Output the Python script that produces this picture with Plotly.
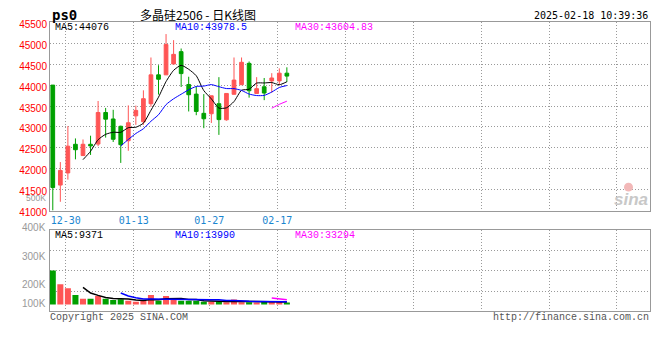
import plotly.graph_objects as go

# ---------------- data ----------------
dates = ["12-26", "12-27", "12-30", "12-31", "01-02", "01-03", "01-06", "01-07", "01-08", "01-09",
         "01-10", "01-13", "01-14", "01-15", "01-16", "01-17", "01-20", "01-21", "01-22", "01-23",
         "01-24", "01-27", "02-05", "02-06", "02-07", "02-10", "02-11", "02-12", "02-13", "02-14",
         "02-17", "02-18"]
open_ = [44000, 41610, 41900, 42585, 42315, 42585, 42590, 43345, 43190, 43015,
         42670, 43265, 43125, 43555, 44245, 44245, 44505, 44800, 44015, 43785,
         43325, 43315, 43555, 43170, 43780, 44010, 44520, 43800, 43960, 44100,
         44100, 44285]
high = [44000, 42160, 43020, 42725, 42700, 42790, 43620, 43455, 43410, 43030,
        43515, 43510, 43875, 44660, 44475, 45220, 45075, 44875, 44200, 43970,
        43785, 43745, 44190, 43800, 44660, 44660, 44565, 44190, 44170, 44285,
        44400, 44425]
low = [41000, 41210, 41740, 42225, 42310, 42330, 42540, 42745, 42640, 42140,
       42430, 43050, 43050, 43480, 43775, 44245, 44500, 43955, 43370, 43280,
       42970, 43095, 42810, 43150, 43780, 44000, 43700, 43800, 43640, 43820,
       44000, 44075]
close = [41550, 41960, 42540, 42455, 42585, 42545, 43345, 43185, 42705, 42575,
         43100, 43395, 43675, 44245, 44140, 44970, 44735, 44275, 43770, 43370,
         43195, 43745, 43175, 43800, 44120, 44545, 43865, 43915, 43810, 44170,
         44285, 44215]
volume = [345000, 198000, 157000, 85000, 44000, 44000, 75000, 44000, 31000, 41000,
          24000, 14000, 24000, 85000, 24000, 75000, 34000, 24000, 24000, 24000,
          14000, 14000, 17000, 9000, 38000, 9000, 9000, 6000, 12000, 12000,
          12000, 5000]

price_ticks = [41000, 41500, 42000, 42500, 43000, 43500, 44000, 44500, 45000, 45500]
date_labels = ["12-30", "01-13", "01-27", "02-17"]
vol_labels = ["500K", "400K", "300K", "200K", "100K"]

ma_price_text = ["MA5:44076", "MA10:43978.5", "MA30:43604.83"]
ma_vol_text = ["MA5:9371", "MA10:13990", "MA30:33294"]

# ---------------- helpers ----------------
W, H = 660, 360
def px(x):
    return x / W
def py(y):
    return 1 - y / H

def moving_avg(vals, n):
    out = []
    for i in range(len(vals)):
        if i + 1 < n:
            out.append(None)
        else:
            out.append(sum(vals[i + 1 - n:i + 1]) / n)
    return out

idx = list(range(len(dates)))
RED = "#ff5555"
GREEN = "#00a000"
MA_COLORS = ["#000000", "#0000ff", "#ff00ff"]
GRID = "#9a9a9a"
BORDER = "#999999"

# vertical grid positions (just left of labelled trading days, then every 9 sessions)
label_idx = [dates.index(d) for d in date_labels]
grid_idx = label_idx + [label_idx[-1] + 9 * k for k in range(1, 6)]
grid_pos = [g - 0.28 for g in grid_idx]
grid_text = date_labels + [""] * (len(grid_pos) - len(date_labels))

fig = go.Figure()

fig.add_trace(go.Candlestick(
    x=idx, open=open_, high=high, low=low, close=close,
    increasing=dict(line=dict(color=RED, width=1), fillcolor=RED),
    decreasing=dict(line=dict(color=GREEN, width=1), fillcolor=GREEN),
    whiskerwidth=0, xaxis="x", yaxis="y", showlegend=False, hoverinfo="skip"))

for n, col in zip([5, 10, 30], MA_COLORS):
    fig.add_trace(go.Scatter(x=idx, y=moving_avg(close, n), mode="lines",
                             line=dict(color=col, width=1, shape="spline", smoothing=0.6),
                             xaxis="x", yaxis="y", showlegend=False, hoverinfo="skip"))

VOL_FLOOR = 17000  # minimum drawn bar height (as in the original renderer)
bar_colors = [RED if c >= o else GREEN for o, c in zip(open_, close)]
fig.add_trace(go.Bar(x=idx, y=[v + VOL_FLOOR for v in volume], base=-VOL_FLOOR,
                     marker=dict(color=bar_colors, line=dict(width=0)), width=0.8,
                     xaxis="x2", yaxis="y2", showlegend=False, hoverinfo="skip"))
for n, col in zip([5, 10, 30], MA_COLORS):
    fig.add_trace(go.Scatter(x=idx, y=moving_avg(volume, n), mode="lines",
                             line=dict(color=col, width=1.5),
                             xaxis="x2", yaxis="y2", showlegend=False, hoverinfo="skip"))

XR = [-0.37, 79.03]
XDOM = [px(50), px(649.5)]
VR = [-89000, 772000]
vol_grid = [VR[0] + (VR[1] - VR[0]) * k / 4 for k in range(1, 4)]

common_x = dict(domain=XDOM, range=XR, showgrid=True, gridcolor=GRID, griddash="1px,2px",
                gridwidth=1, zeroline=False, showline=True, mirror=True, linecolor=BORDER,
                linewidth=1, ticks="", tickmode="array", tickvals=grid_pos, fixedrange=True)

fig.update_layout(
    width=W, height=H, autosize=False,
    margin=dict(l=0, r=0, t=0, b=0),
    paper_bgcolor="white", plot_bgcolor="white",
    xaxis=dict(**common_x, ticktext=grid_text, anchor="y",
               tickfont=dict(family="DejaVu Sans Mono", size=10, color="#1a86d0"),
               rangeslider=dict(visible=False)),
    xaxis2=dict(**common_x, ticktext=[""] * len(grid_pos), anchor="y2", showticklabels=False),
    yaxis=dict(domain=[py(213.7), py(19)], range=[price_ticks[0], price_ticks[-1]],
               tickmode="array", tickvals=price_ticks, ticktext=[str(t) for t in price_ticks],
               tickfont=dict(family="Liberation Sans", size=10, color="#ff0000"),
               ticklabelshift=2,
               showgrid=True, gridcolor=GRID, griddash="1px,2px", zeroline=False,
               showline=True, mirror=True, linecolor=BORDER, ticks="", anchor="x",
               fixedrange=True),
    yaxis2=dict(domain=[py(318), py(234)], range=VR, tickmode="array", tickvals=vol_grid,
                showticklabels=False, showgrid=True, gridcolor=GRID, griddash="1px,2px",
                zeroline=False, showline=True, mirror=True, linecolor=BORDER, ticks="",
                anchor="x2", fixedrange=True),
)

ann = []
def text(x, y, s, color="#000000", size=10, family="Liberation Mono", anchor="left", **kw):
    ann.append(dict(x=px(x), y=py(y), xref="paper", yref="paper", text=s, showarrow=False,
                    xanchor=anchor, yanchor="middle", borderpad=0,
                    font=dict(color=color, size=size, family=family), **kw))

text(51, 11, "<b>ps0</b>", size=14, family="DejaVu Sans Mono")
text(139, 11, "多晶硅2506 - 日K线图", size=12, family="Noto Sans CJK SC")
text(649, 12, "2025-02-18 10:39:36", size=10, family="DejaVu Sans Mono", anchor="right")
for s, x, col in zip(ma_price_text, [54, 174, 294], MA_COLORS):
    text(x, 24, s, color=col)
for s, x, col in zip(ma_vol_text, [54, 174, 294], MA_COLORS):
    text(x, 239, s, color=col)
for s, y, fs in zip(vol_labels, [200.9, 230.7, 261, 290, 310], [8.5, 10, 10, 10, 10]):
    text(47, y, s, color="#999999", size=fs, family="Liberation Sans", anchor="right")
text(49, 324, "Copyright 2025 SINA.COM", color="#555555")
text(650, 324, "http://finance.sina.com.cn", color="#555555", anchor="right")
text(649, 202, "<b><i>sina</i></b>", color="#c8c8c8", size=17, family="Liberation Sans", anchor="right")

fig.update_layout(annotations=ann)
fig.add_shape(type="circle", xref="paper", yref="paper", x0=px(624), x1=px(633), y0=py(194), y1=py(185),
              fillcolor="#f2b8b8", line=dict(width=0), layer="above")

fig.write_html("out.html", config={"responsive": False, "displayModeBar": False},
               post_script="document.body.style.margin='0';document.body.style.overflow='hidden';")
